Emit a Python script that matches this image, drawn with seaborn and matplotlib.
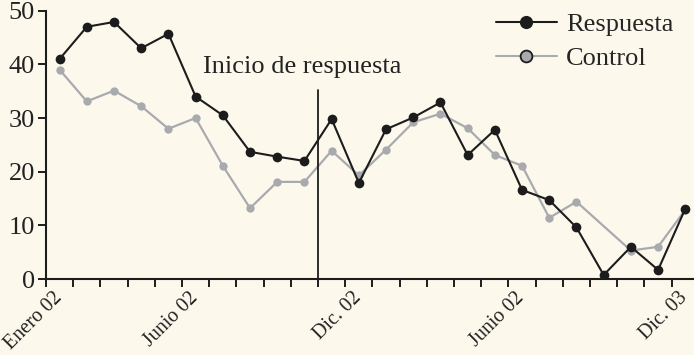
import numpy as np
import pandas as pd
import seaborn as sns
import matplotlib.pyplot as plt
import matplotlib.transforms as mtransforms
from matplotlib.lines import Line2D

# meses desde enero 02 (24 meses)
months = list(range(24))
respuesta = [41.0, 47.0, 47.9, 43.0, 45.7, 34.0, 30.5, 23.7, 22.8, 22.0, 29.8, 17.9,
             27.9, 30.1, 32.9, 23.1, 27.8, 16.6, 14.7, 9.6, 0.75, 6.0, 1.7, 13.1]
control = [39.0, 33.1, 35.1, 32.2, 28.0, 30.0, 21.1, 13.2, 18.1, 18.1, 23.9, 19.3,
           24.1, 29.2, 30.8, 28.1, 23.1, 21.1, 11.4, 14.4, np.nan, 5.3, 6.0, 12.9]
tick_labels = {0: "Enero 02", 5: "Junio 02", 11: "Dic. 02", 17: "Junio 02", 23: "Dic. 03"}
onset = 10
y_ticks = [0, 10, 20, 30, 40, 50]

bg = "#fcf9ec"
dark = "#1c1c1c"
gray = "#a9aaae"

sns.set_style("ticks")
plt.rcParams["font.family"] = ["Liberation Serif", "DejaVu Serif"]

df = pd.DataFrame({"mes": months, "Respuesta": respuesta, "Control": control})
df["pos"] = df["mes"] + 0.5

fig = plt.figure(figsize=(6.94, 3.55), dpi=100, facecolor=bg)
ax = fig.add_axes([46 / 694, 1 - 279 / 355, 648 / 694, 268.3 / 355])
ax.set_facecolor(bg)

sns.lineplot(data=df.dropna(subset=["Control"]), x="pos", y="Control", color=gray,
             marker="o", markersize=6, markeredgewidth=0, linewidth=1.6, ax=ax)
sns.lineplot(data=df, x="pos", y="Respuesta", color=dark,
             marker="o", markersize=7, markeredgewidth=0, linewidth=1.5, ax=ax)

ax.axvline(onset, ymin=0, ymax=35.2 / 50, color=dark, lw=1.3)
ax.text(onset - 0.6, 38.4, "Inicio de respuesta", ha="center", va="baseline",
        fontsize=19, color="#222222")

ax.set_xlim(0, 23.82)
ax.set_ylim(0, 50)
ax.set_yticks(y_ticks)
ax.set_xticks(months)
ax.tick_params(axis="y", labelsize=19, length=6, width=1.4, color=dark, labelcolor="#222222", pad=2)
ax.tick_params(axis="x", length=6, width=1.4, color=dark, labelcolor="#222222")
ax.set_xticklabels([tick_labels.get(m, "") for m in months], rotation=45,
                   ha="right", va="top", rotation_mode="anchor", fontsize=14.5)
offset = mtransforms.ScaledTranslation(0.065, 0.04, fig.dpi_scale_trans)
for lbl in ax.get_xticklabels():
    lbl.set_transform(lbl.get_transform() + offset)
ax.set_xlabel("")
ax.set_ylabel("")

for side in ["top", "right"]:
    ax.spines[side].set_visible(False)
for side in ["left", "bottom"]:
    ax.spines[side].set_linewidth(1.5)
    ax.spines[side].set_color(dark)

handles = [
    Line2D([], [], color=dark, lw=1.5, marker="o", markersize=9.5, markeredgewidth=0),
    Line2D([], [], color=gray, lw=1.5, marker="o", markersize=8.5,
           markerfacecolor=gray, markeredgecolor=dark, markeredgewidth=1.3),
]
ax.legend(handles, ["Respuesta", "Control"], loc="upper left",
          bbox_to_anchor=(450 / 648, 1.0 - 2 / 268), frameon=False, fontsize=19,
          handlelength=2.3, handletextpad=0.35, labelspacing=0.4,
          borderpad=0, borderaxespad=0)

fig.savefig("out.png", dpi=100, facecolor=bg)
